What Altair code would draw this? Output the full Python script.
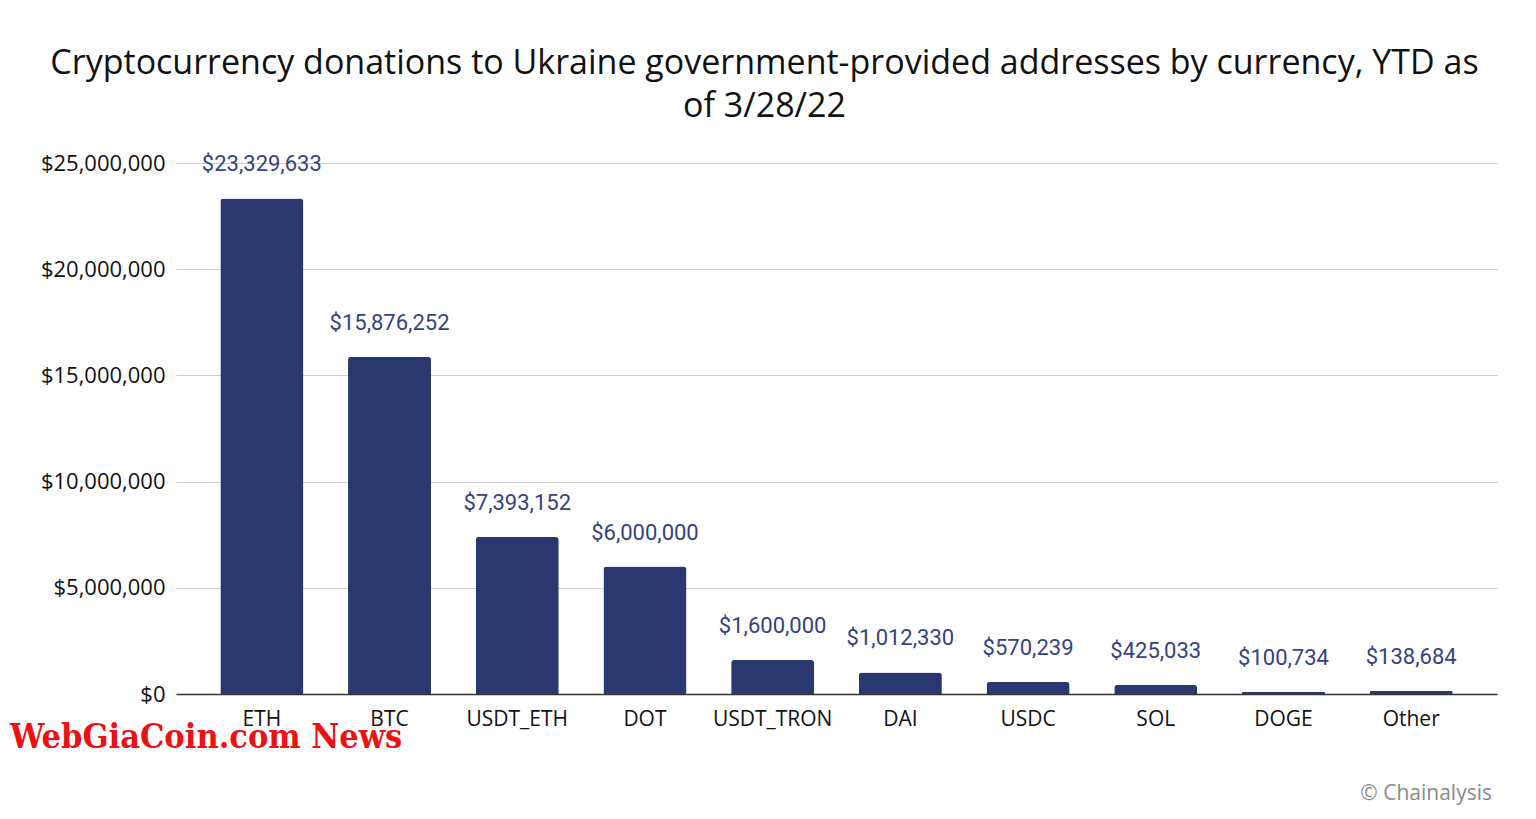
import altair as alt
import pandas as pd

currencies = ["ETH", "BTC", "USDT_ETH", "DOT", "USDT_TRON", "DAI", "USDC", "SOL", "DOGE", "Other"]
values = [23329633, 15876252, 7393152, 6000000, 1600000, 1012330, 570239, 425033, 100734, 138684]
title_lines = ["Cryptocurrency donations to Ukraine government-provided addresses by currency, YTD as",
               "of 3/28/22"]
y_ticks = [0, 5000000, 10000000, 15000000, 20000000, 25000000]
watermark = ["WebGiaCoin.com News"]
credit = ["© Chainalysis"]

df = pd.DataFrame({"currency": currencies, "value": values})

x_enc = alt.X("currency:N", sort=currencies, title=None,
              scale=alt.Scale(paddingInner=0.35, paddingOuter=0.347),
              axis=alt.Axis(labelAngle=0, labelFont="Open Sans", labelFontSize=21, labelColor="#111",
                            labelPadding=14, ticks=False, domainColor="#333", domainWidth=1.5))
y_enc = alt.Y("value:Q", title=None,
              scale=alt.Scale(domain=[0, 25000000], nice=False),
              axis=alt.Axis(values=y_ticks, format="$,.0f", labelFont="Open Sans", labelFontSize=22,
                            labelColor="#111", labelPadding=11, ticks=False, domain=False,
                            gridColor="#cccccc", gridWidth=1))

bars = alt.Chart(df).mark_bar(color="#2b3870", cornerRadiusTopLeft=3, cornerRadiusTopRight=3).encode(
    x=x_enc, y=y_enc)

labels = alt.Chart(df).mark_text(font="Roboto", fontSize=22, color="#34437f", baseline="middle",
                                 dy=-34).encode(
    x=alt.X("currency:N", sort=currencies),
    y=alt.Y("value:Q"),
    text=alt.Text("value:Q", format="$,.0f"))

wm = alt.Chart(pd.DataFrame({"t": watermark})).mark_text(
    font="DejaVu Serif Condensed", fontWeight="bold", fontSize=34, color="#ee1111",
    align="left", baseline="middle").encode(
    text="t:N", x=alt.value(-166), y=alt.value(575))

cr = alt.Chart(pd.DataFrame({"t": credit})).mark_text(
    font="Open Sans", fontSize=21, color="#8a8a8a", align="right", baseline="middle").encode(
    text="t:N", x=alt.value(1316), y=alt.value(100 + 531))

chart = alt.layer(bars, labels, wm, cr).properties(
    width=1321, height=531,
    autosize=alt.AutoSizeParams(type="none"),
    padding={"left": 168, "top": 155, "right": 25, "bottom": 114},
    title=alt.TitleParams(text=title_lines, font="Open Sans", fontSize=34, fontWeight="normal",
                          color="#111", anchor="middle", frame="bounds", offset=28, lineHeight=43,
                          dx=11),
).configure_view(stroke=None).configure_axisX(grid=False)

chart.save("out.html", embed_options={"renderer": "svg", "actions": False})
